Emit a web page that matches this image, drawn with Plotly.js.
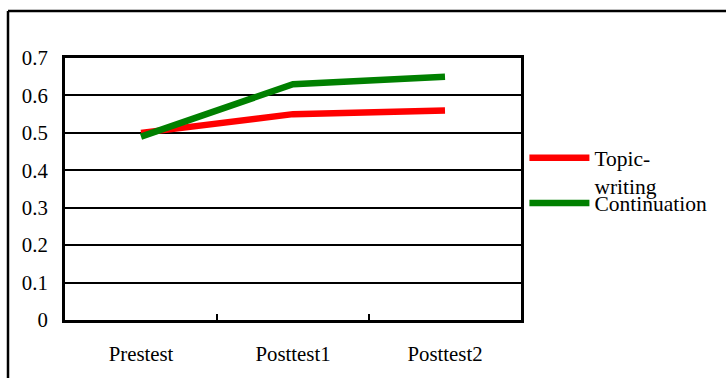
<!DOCTYPE html>
<html>
<head>
<meta charset="utf-8">
<script src="https://cdn.plot.ly/plotly-3.0.1.min.js"></script>
<style>html,body{margin:0;padding:0;background:#fff;}#chart{width:726px;height:378px;}</style>
</head>
<body>
<div id="chart"></div>
<script>
var categories = ["Prestest", "Posttest1", "Posttest2"];
var seriesNames = ["Topic-<br>writing", "Continuation"];
var topicWriting = [0.50, 0.55, 0.56];
var continuation = [0.49, 0.63, 0.65];
var yTicks = [0, 0.1, 0.2, 0.3, 0.4, 0.5, 0.6, 0.7];
var yTickLabels = ["0", "0.1", "0.2", "0.3", "0.4", "0.5", "0.6", "0.7"];

var font = "Liberation Serif";

var traces = [
  {x: categories, y: topicWriting, name: seriesNames[0], type: "scatter", mode: "lines",
   line: {color: "#ff0000", width: 6.5}, legend: "legend"},
  {x: categories, y: continuation, name: seriesNames[1], type: "scatter", mode: "lines",
   line: {color: "#008000", width: 6.5}, legend: "legend2"}
];

var legendBase = {
  xanchor: "left", yanchor: "top",
  valign: "top", itemwidth: 60,
  font: {family: font, size: 21.5, color: "#000"},
  bgcolor: "rgba(0,0,0,0)", borderwidth: 0
};

var layout = {
  width: 726, height: 378,
  margin: {l: 65, r: 205, t: 58, b: 58},
  paper_bgcolor: "#fff", plot_bgcolor: "#fff",
  font: {family: font, color: "#000", size: 20.5},
  showlegend: true,
  legend: Object.assign({}, legendBase, {x: 1.0075, y: 0.697}),
  legend2: Object.assign({}, legendBase, {x: 1.0075, y: 0.525}),
  xaxis: {
    type: "category", range: [-0.5, 2.5],
    showline: true, linecolor: "#000", linewidth: 3, mirror: true,
    ticks: "inside", tickson: "boundaries", ticklen: 6, tickwidth: 2, tickcolor: "#000",
    showgrid: false, zeroline: false, fixedrange: true,
    ticklabelstandoff: 13,
    tickfont: {family: font, size: 20.8, color: "#000"}
  },
  yaxis: {
    range: [0, 0.7], tickvals: yTicks, ticktext: yTickLabels,
    showline: true, linecolor: "#000", linewidth: 3, mirror: true,
    showgrid: true, gridcolor: "#000", gridwidth: 2,
    zeroline: false, ticks: "", fixedrange: true,
    ticklabelstandoff: 10,
    tickfont: {family: font, size: 20.8, color: "#000"}
  },
  shapes: [
    {type: "line", xref: "paper", yref: "paper", x0: -0.125, x1: 1.5, y0: 1.179, y1: 1.179,
     line: {color: "#000", width: 2.5}},
    {type: "line", xref: "paper", yref: "paper", x0: -0.125, x1: -0.125, y0: 1.179, y1: -0.25,
     line: {color: "#000", width: 2.5}}
  ]
};

Plotly.newPlot("chart", traces, layout, {displayModeBar: false, staticPlot: true});
</script>
</body>
</html>
